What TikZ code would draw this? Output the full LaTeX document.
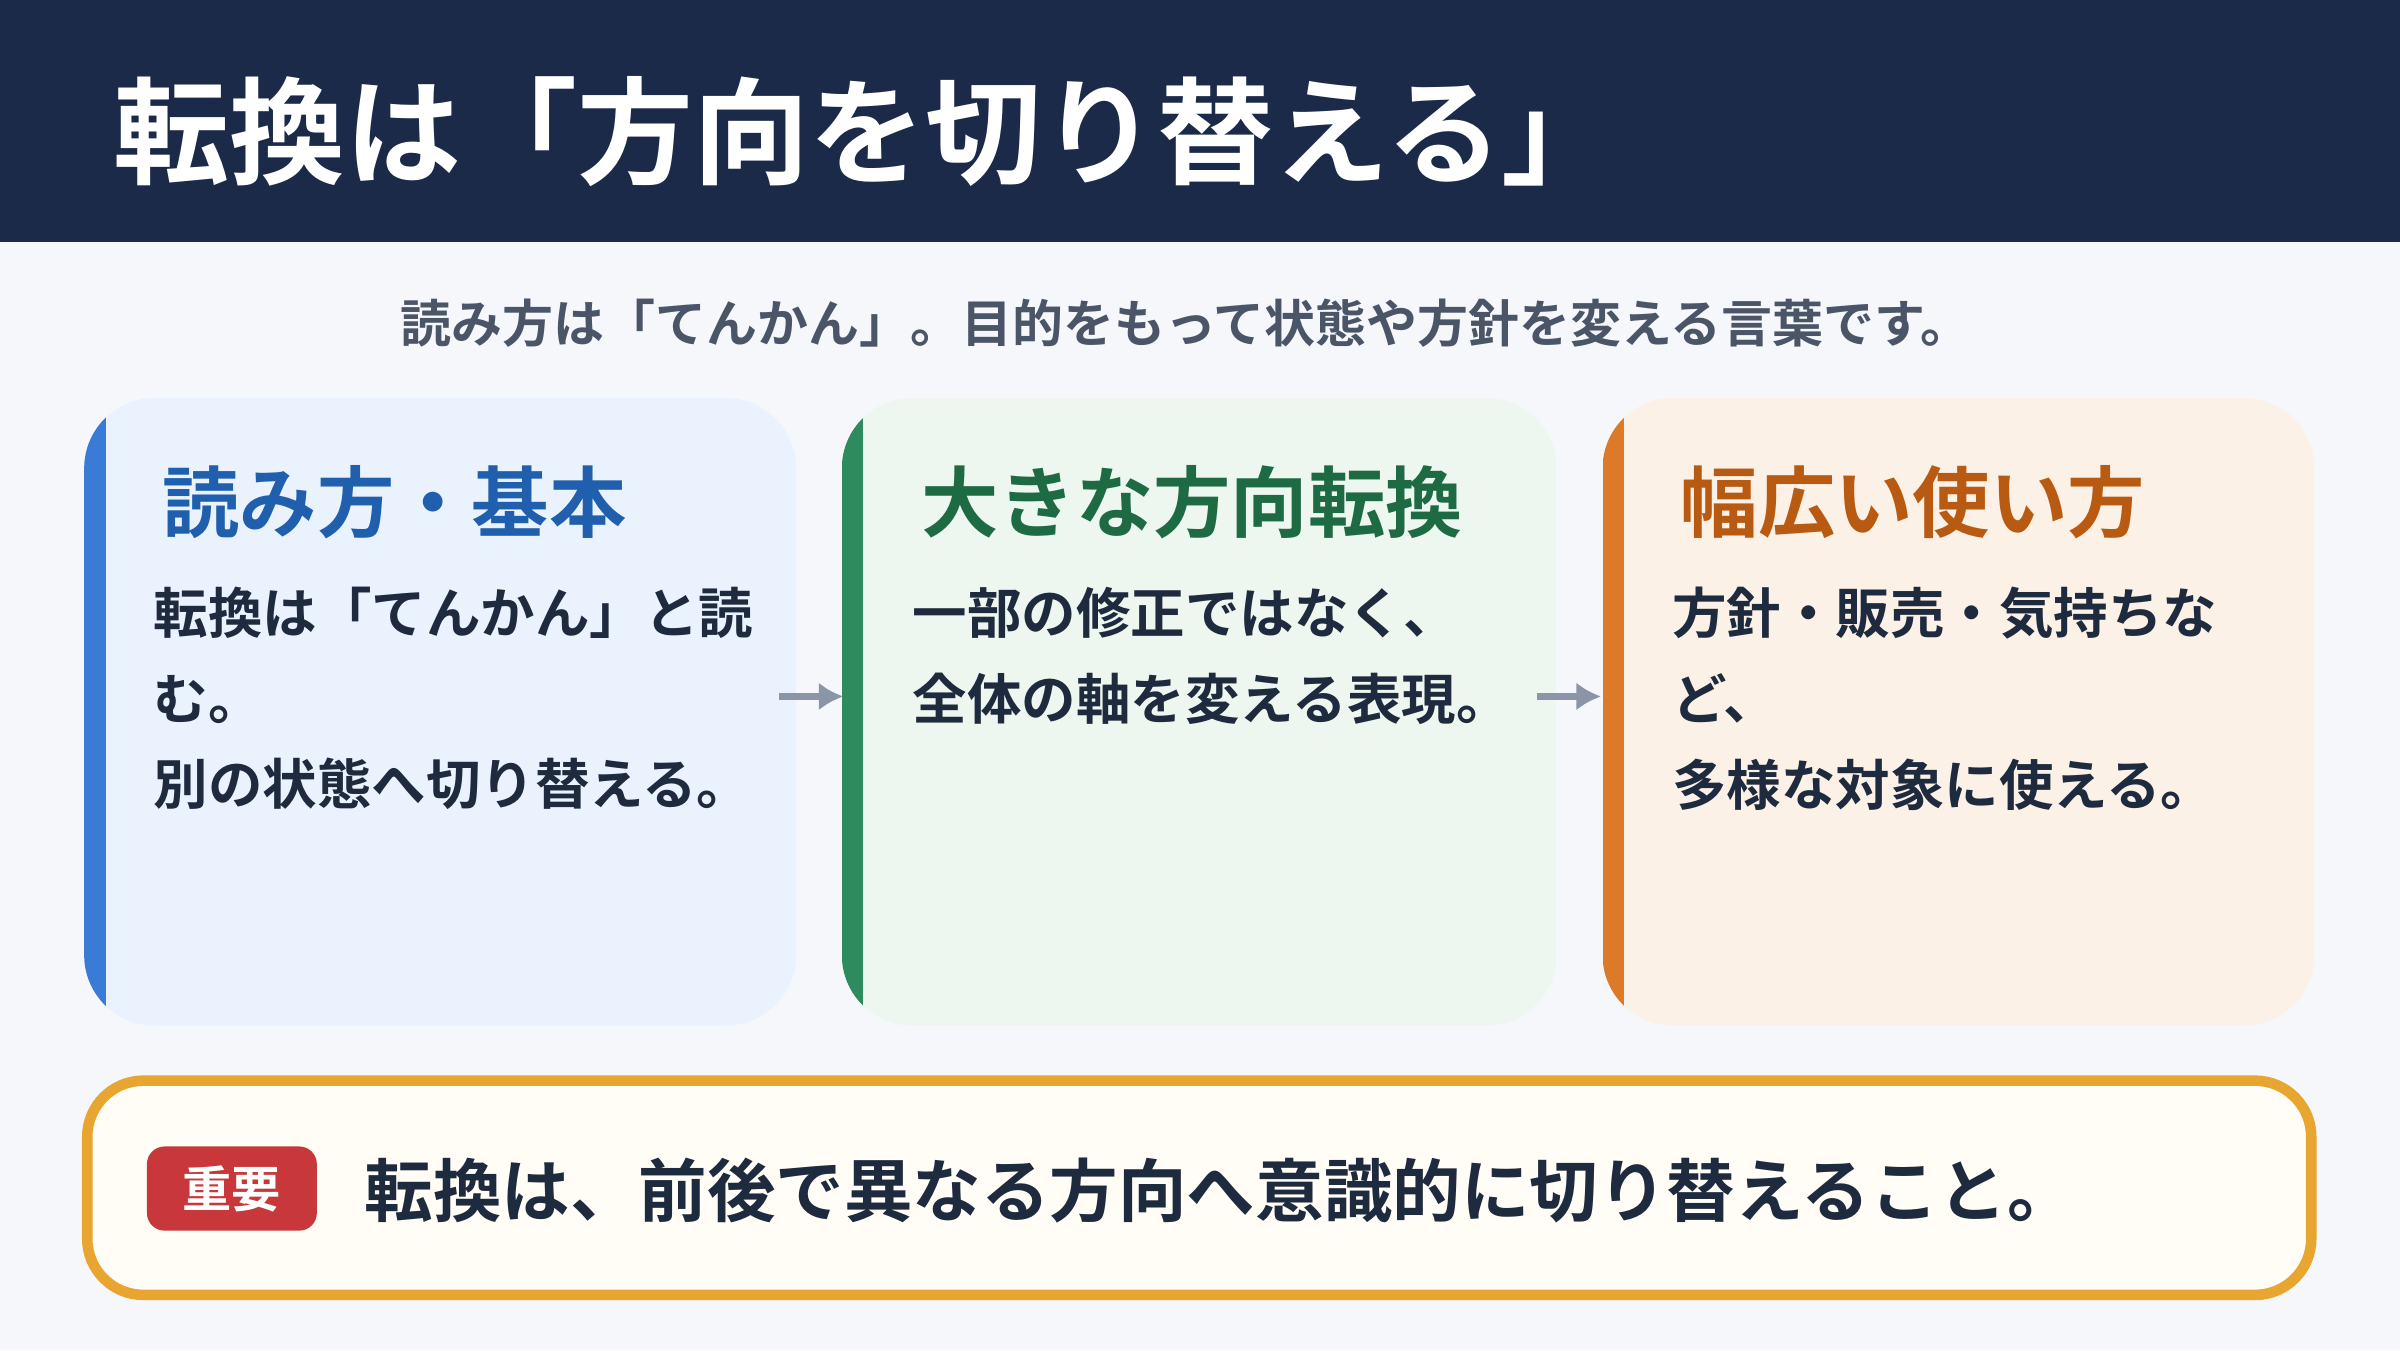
\documentclass[tikz,border=0pt]{standalone}
\usepackage{fontspec}
\setmainfont{Noto Sans CJK JP}[BoldFont={* Bold}]
\newfontfamily\jpb{Noto Sans CJK JP Bold}
\definecolor{hdr}{HTML}{1C2A4A}
\definecolor{bg}{HTML}{F5F7FB}
\definecolor{sub}{HTML}{4A5568}
\definecolor{bodyc}{HTML}{1E2A3E}
\definecolor{acA}{HTML}{3A7BD5}\definecolor{fA}{HTML}{EAF2FD}\definecolor{tA}{HTML}{1F5FAE}
\definecolor{acB}{HTML}{2E8B5E}\definecolor{fB}{HTML}{EDF7EF}\definecolor{tB}{HTML}{1E6B43}
\definecolor{acC}{HTML}{DD7A2A}\definecolor{fC}{HTML}{FCF1E6}\definecolor{tC}{HTML}{B85A12}
\definecolor{note}{HTML}{E8A530}\definecolor{notef}{HTML}{FFFDF6}
\definecolor{badge}{HTML}{C8373A}\definecolor{arr}{HTML}{8A96A8}
\begin{document}
\begin{tikzpicture}[x=0.015306cm,y=-0.015306cm,
  ctitle/.style={anchor=west,font=\jpb\fontsize{22}{26}\selectfont},
  cbody/.style={anchor=north west,align=left,text=bodyc,font=\jpb\fontsize{15.5}{24.4}\selectfont,inner sep=0pt},
  flow/.style={draw=arr,line width=2.2pt,-{Latex[length=7pt,width=8pt]}}]
\usetikzlibrary{arrows.meta}
\fill[bg] (0,0) rectangle (1568,882);
\useasboundingbox (0,0) rectangle (1568,882);
\fill[hdr] (0,0) rectangle (1568,158);
\node[anchor=west,text=white,font=\jpb\fontsize{33}{38}\selectfont] (title) at (66,86) {転換は「方向を切り替える」};
\node[text=sub,font=\jpb\fontsize{14.5}{18}\selectfont] (subt) at (775,211) {読み方は「てんかん」。目的をもって状態や方針を変える言葉です。};
% cards
\foreach \xa/\xb/\ac/\fc/\nm in {55/520/acA/fA/cA,550/1017/acB/fB/cB,1047/1512/acC/fC/cC}{
  \begin{scope}
    \clip[rounded corners=20] (\xa,260) rectangle (\xb,670);
    \fill[\fc] (\xa,260) rectangle (\xb,670);
    \fill[\ac] (\xa,260) rectangle (\xa+14,670);
  \end{scope}
  \coordinate (\nm w) at (\xa,455);
  \coordinate (\nm e) at (\xb,455);
}
\node[ctitle,text=tA] (hA) at (98,328) {読み方・基本};
\node[ctitle,text=tB] (hB) at (594,328) {大きな方向転換};
\node[ctitle,text=tC] (hC) at (1090,328) {幅広い使い方};
\node[cbody] (bA) at (100,383) {転換は「てんかん」と読\\む。\\別の状態へ切り替える。};
\node[cbody] (bB) at (596,383) {一部の修正ではなく、\\全体の軸を変える表現。};
\node[cbody] (bC) at (1092,383) {方針・販売・気持ちな\\ど、\\多様な対象に使える。};
\coordinate (a1) at (509,455); \coordinate (a2) at (551,455);
\coordinate (a3) at (1004,455); \coordinate (a4) at (1046,455);
\draw[flow] (a1) -- (a2);
\draw[flow] (a3) -- (a4);
% note
\draw[note,fill=notef,line width=3pt,rounded corners=16] (57,706) rectangle (1510,846);
\fill[badge,rounded corners=5] (96,749) rectangle (207,804);
\node[text=white,font=\jpb\fontsize{14}{16}\selectfont] (bd) at (151.5,776.5) {重要};
\node[anchor=west,text=bodyc,font=\jpb\fontsize{19.5}{22}\selectfont] (nt) at (230,778) {転換は、前後で異なる方向へ意識的に切り替えること。};
\end{tikzpicture}
\end{document}
